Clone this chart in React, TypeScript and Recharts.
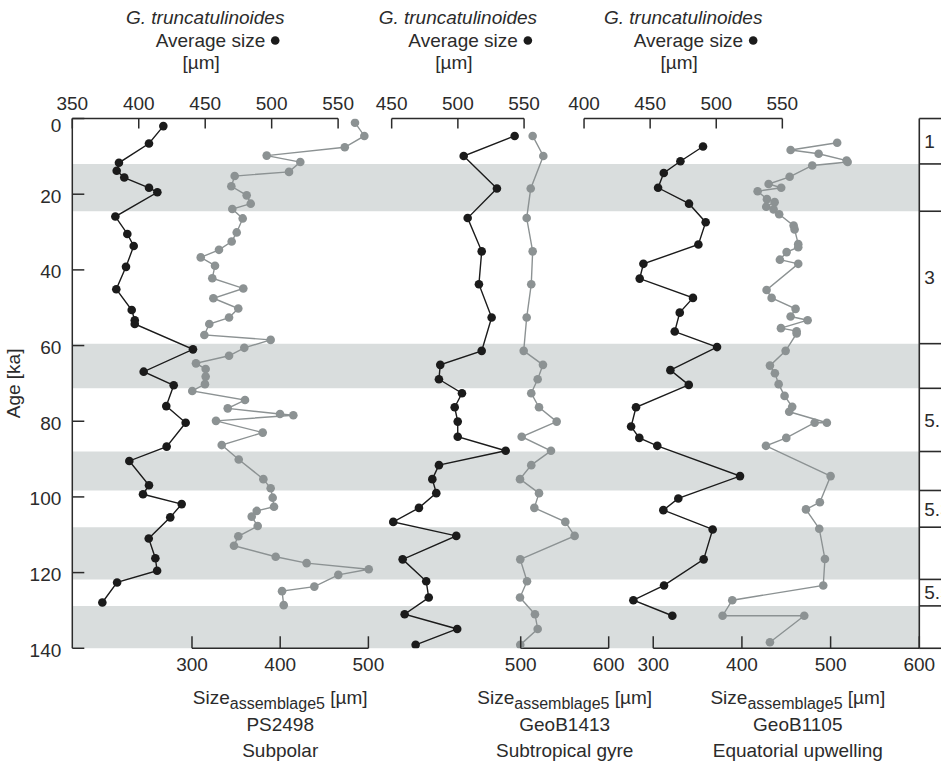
import {
  ComposedChart,
  Scatter,
  XAxis,
  YAxis,
  ReferenceArea,
  ReferenceLine,
  ReferenceDot,
} from "recharts";

const FONT = "'Liberation Sans', Arial, sans-serif";
const INK = "#2b2b2b";
const BLACK = "#1b1b1b";
const GREY = "#8c9293";
const BAND = "#d9dddd";

// PS2498, subpolar
const ps2498AvgAge = [2.0, 6.6, 11.7, 13.8, 15.6, 18.3, 19.5, 25.9, 30.5, 33.7, 39.2, 45.1, 50.6, 53.3, 54.3, 61.0, 66.9, 70.5, 76.0, 80.4, 86.7, 90.5, 96.9, 99.3, 101.9, 105.4, 111.0, 116.2, 119.5, 122.6, 127.9];
const ps2498AvgSize = [418.5, 407.7, 385.1, 383.4, 389.1, 407.7, 414, 382.4, 391.4, 396.2, 390.4, 383.1, 394.7, 397, 397, 440.8, 403.7, 426.3, 420.7, 435.3, 421, 392.9, 407.7, 403.2, 432.3, 423.7, 407.5, 412.5, 413.8, 383.7, 372.6];
const ps2498AsmAge = [1.1, 4.6, 7.6, 9.8, 11.5, 14.1, 15.2, 17.9, 20.3, 22.5, 23.9, 26.4, 30.1, 32.5, 34.7, 36.7, 38.9, 42.2, 44.9, 47.5, 50.2, 52.6, 54.3, 57.2, 58.5, 60.6, 62.7, 64.7, 66.2, 68.2, 70.2, 72.0, 74.4, 76.6, 78.1, 78.4, 79.9, 83.0, 86.3, 90.1, 95.3, 97.7, 100.2, 102.6, 103.7, 105.2, 107.7, 110.4, 112.9, 115.8, 117.5, 119.1, 120.6, 123.7, 124.9, 128.6];
const ps2498AsmSize = [484.8, 495.4, 473.2, 384.7, 422.8, 410, 348.4, 344.6, 362, 366.6, 345.7, 357.5, 350.7, 345, 330.6, 309.9, 326.1, 323, 358.2, 324.2, 352.5, 342, 319.6, 314, 389.2, 359.3, 342, 304.5, 315.5, 315.5, 314.7, 300.3, 360.1, 340.5, 399.8, 414.9, 327.2, 380.2, 333.7, 353, 380.9, 389.2, 391.5, 393, 373.4, 367.7, 374.5, 352.5, 347.6, 394.9, 430, 500.4, 465.9, 438.7, 402.1, 404];

// GeoB1413, subtropical gyre (both series share one age model)
const geoB1413Age = [4.6, 9.9, 18.5, 26.3, 35.1, 43.8, 52.6, 61.4, 65.1, 68.9, 72.6, 76.3, 80.1, 84.1, 87.8, 91.6, 95.3, 99.0, 102.9, 106.6, 110.3, 116.5, 122.3, 126.6, 131.0, 134.9, 139.1];
const geoB1413AvgSize = [542.9, 504.4, 529.5, 507.4, 518, 515.9, 525.5, 518, 486.7, 485.7, 503.1, 497.6, 499.9, 499.9, 536.1, 485.7, 480.7, 483.7, 470.6, 451.2, 498.8, 458.3, 476.1, 478, 459.8, 499.5, 468.1];
const geoB1413AsmSize = [513.6, 525.7, 511.4, 506.8, 513.6, 512, 506.8, 503.4, 525.3, 519.3, 512, 520.8, 540.9, 501.1, 534.4, 512, 499.2, 520.8, 515.5, 550.7, 561.3, 499.5, 507.2, 499.2, 516.2, 519.3, 499.5];

// GeoB1105, equatorial upwelling
const geoB1105AvgAge = [7.4, 11.3, 14.4, 18.3, 22.5, 27.4, 33.3, 38.4, 42.3, 47.4, 51.3, 56.3, 60.4, 66.5, 70.4, 76.3, 81.4, 84.4, 86.5, 94.5, 100.4, 103.5, 108.6, 116.5, 123.4, 127.3, 131.4];
const geoB1105AvgSize = [490, 472.9, 460.3, 456, 479.4, 492, 486.5, 444.9, 442.1, 482.4, 472.4, 468.6, 500.6, 465.3, 479.2, 439.3, 435.6, 441.8, 455.4, 518, 471.3, 460, 497.3, 490.5, 460.5, 437.3, 466.8];
const geoB1105AsmAge = [6.4, 8.3, 9.3, 11.1, 11.5, 12.4, 15.4, 17.3, 18.3, 19.2, 21.3, 22.1, 23.3, 24.0, 25.3, 28.3, 29.3, 33.2, 34.0, 35.3, 37.3, 38.4, 45.3, 47.4, 50.3, 52.3, 53.3, 55.4, 56.2, 56.8, 61.4, 65.3, 67.3, 70.2, 73.3, 76.2, 77.5, 80.4, 80.4, 84.4, 86.5, 94.5, 101.4, 103.3, 108.4, 116.4, 123.4, 127.3, 131.4, 131.4, 138.4];
const geoB1105AsmSize = [507.4, 454.9, 486.5, 518, 519.2, 479.3, 453.8, 430.1, 444.3, 417.7, 428.2, 436.9, 427.4, 435.7, 442, 458.3, 459.4, 463.5, 463.5, 450.4, 442.8, 463.5, 427.8, 433.5, 460.5, 454.9, 474.1, 444, 461.7, 461.7, 449.3, 431.6, 437.2, 441.4, 448.1, 456.7, 453.3, 495.8, 482, 450, 427.1, 500, 487.9, 472.2, 487.2, 493.6, 491.7, 389.1, 378.2, 470.3, 431.6];

// shaded intervals and marine isotope stage column
const shadedAges = [[12, 24.5], [59.5, 71.3], [88, 98.3], [108, 121.8], [128.8, 140]];
const stageBounds = [0, 12, 24.5, 59.5, 71.3, 88, 98.3, 108, 121.8, 128.8, 140];
const stageNames = ["1", "3", "5.1", "5.3", "5.5"];
const stageNameAges = [6, 42, 79.6, 103.2, 125.3];
const ageTicks = [0, 20, 40, 60, 80, 100, 120, 140];

const toPoints = (ages: number[], sizes: number[]) =>
  ages.map((age, i) => ({ age, v: sizes[i] }));

// each core gets its own top (average size) and bottom (assemblage size) scale
const panels = [
  {
    key: "ps2498",
    top: { id: "ps2498Top", domain: [350, 987.3], ticks: [350, 400, 450, 500, 550], titleAt: 450 },
    bottom: { id: "ps2498Bottom", domain: [164.3, 1124.6], ticks: [300, 400, 500], captionAt: 400 },
    core: "PS2498",
    region: "Subpolar",
    avg: toPoints(ps2498AvgAge, ps2498AvgSize),
    asm: toPoints(ps2498AsmAge, ps2498AsmSize),
  },
  {
    key: "geoB1413",
    top: { id: "geoB1413Top", domain: [208.8, 848.5], ticks: [450, 500, 550], titleAt: 500 },
    bottom: { id: "geoB1413Bottom", domain: [-9.6, 953], ticks: [500, 600], captionAt: 550 },
    core: "GeoB1413",
    region: "Subtropical gyre",
    avg: toPoints(geoB1413Age, geoB1413AvgSize),
    asm: toPoints(geoB1413Age, geoB1413AsmSize),
  },
  {
    key: "geoB1105",
    top: { id: "geoB1105Top", domain: [12.9, 653.6], ticks: [400, 450, 500, 550], titleAt: 475 },
    bottom: { id: "geoB1105Bottom", domain: [-355, 600], ticks: [300, 400, 500, 600], captionAt: 463 },
    core: "GeoB1105",
    region: "Equatorial upwelling",
    avg: toPoints(geoB1105AvgAge, geoB1105AvgSize),
    asm: toPoints(geoB1105AsmAge, geoB1105AsmSize),
  },
];

const textStyle = { fontFamily: FONT, fontSize: 19, fill: INK };

function TopTick({ x, y, payload }: any) {
  return (
    <g>
      <line x1={x} x2={x} y1={y} y2={y + 10} stroke={INK} strokeWidth={1.5} />
      <text x={x} y={y - 9} textAnchor="middle" {...textStyle}>
        {payload.value}
      </text>
    </g>
  );
}

function BottomTick({ x, y, payload }: any) {
  return (
    <g>
      <line x1={x} x2={x} y1={y} y2={y - 12} stroke={INK} strokeWidth={1.5} />
      <text x={x} y={y + 23} textAnchor="middle" {...textStyle}>
        {payload.value}
      </text>
    </g>
  );
}

function AgeTick({ x, y, payload }: any) {
  // the zero label is nudged down so it clears the 350 above it
  const shift = payload.value === 0 ? 7 : 1.5;
  return (
    <g>
      <line x1={x} x2={x + 12} y1={y} y2={y} stroke={INK} strokeWidth={1.5} />
      <text x={x - 11} y={y + shift} dy="0.36em" textAnchor="end" {...textStyle}>
        {payload.value}
      </text>
    </g>
  );
}

function StageTick({ x, y, payload }: any) {
  const i = stageNameAges.indexOf(payload.value);
  if (i >= 0) {
    return (
      <text x={x + 5} y={y} dy="0.36em" {...textStyle}>
        {stageNames[i]}
      </text>
    );
  }
  return <line x1={x} x2={x + 24} y1={y} y2={y} stroke={INK} strokeWidth={1.6} />;
}

function TopTitle(props: any) {
  const { x, y } = props.viewBox;
  return (
    <g>
      <text x={x} y={y - 94.5} textAnchor="middle" fontStyle="italic" {...textStyle}>
        G. truncatulinoides
      </text>
      <text x={x + 60} y={y - 72} textAnchor="end" {...textStyle}>
        Average size
      </text>
      <circle cx={x + 70} cy={y - 78} r={4.3} fill={BLACK} />
      <text x={x - 4} y={y - 50} textAnchor="middle" {...textStyle}>
        [µm]
      </text>
    </g>
  );
}

function BottomCaption(core: string, region: string) {
  return (props: any) => {
    const { x, y } = props.viewBox;
    return (
      <g>
        <text x={x} y={y + 56} textAnchor="middle" {...textStyle}>
          <tspan>Size</tspan>
          <tspan fontSize={16} dy={5}>assemblage5</tspan>
          <tspan dy={-5}> [µm]</tspan>
        </text>
        <text x={x} y={y + 83} textAnchor="middle" {...textStyle}>
          {core}
        </text>
        <text x={x} y={y + 109} textAnchor="middle" {...textStyle}>
          {region}
        </text>
      </g>
    );
  };
}

function AgeLabel(props: any) {
  const { x, y, height } = props.viewBox;
  const cy = y + height / 2;
  return (
    <text
      x={x + 20}
      y={cy}
      textAnchor="middle"
      transform={`rotate(-90, ${x + 20}, ${cy})`}
      {...textStyle}
    >
      Age [ka]
    </text>
  );
}

const dot = (fill: string) => (props: any) =>
  <circle cx={props.cx} cy={props.cy} r={4.3} fill={fill} />;

// axes sit on the plot edges; a near-zero height keeps them from stacking
const AXIS_H = 0.01;

export default function App() {
  return (
    <div
      style={{
        position: "fixed",
        left: 0,
        top: 0,
        width: 941,
        height: 767,
        overflow: "hidden",
        background: "#fff",
      }}
    >
      <ComposedChart
        width={941}
        height={767}
        margin={{ top: 118.5, right: 0, bottom: 118.7, left: 0 }}
      >
        {panels.map((p) => (
          <XAxis
            key={p.top.id}
            xAxisId={p.top.id}
            orientation="top"
            type="number"
            dataKey="v"
            domain={p.top.domain}
            allowDataOverflow
            ticks={p.top.ticks}
            interval={0}
            height={AXIS_H}
            axisLine={false}
            tickLine={false}
            tickSize={0}
            tickMargin={0}
            tick={(t: any) => <TopTick {...t} />}
          />
        ))}
        {panels.map((p) => (
          <XAxis
            key={p.bottom.id}
            xAxisId={p.bottom.id}
            orientation="bottom"
            type="number"
            dataKey="v"
            domain={p.bottom.domain}
            allowDataOverflow
            ticks={p.bottom.ticks}
            interval={0}
            height={AXIS_H}
            axisLine={false}
            tickLine={false}
            tickSize={0}
            tickMargin={0}
            tick={(t: any) => <BottomTick {...t} />}
          />
        ))}
        <YAxis
          type="number"
          dataKey="age"
          domain={[0, 140]}
          reversed
          allowDataOverflow
          ticks={ageTicks}
          interval={0}
          width={72.3}
          axisLine={{ stroke: INK, strokeWidth: 1.5 }}
          tickLine={false}
          tickSize={0}
          tickMargin={0}
          tick={(t: any) => <AgeTick {...t} />}
          label={(l: any) => <AgeLabel {...l} />}
        />
        <YAxis
          yAxisId="stage"
          orientation="right"
          type="number"
          domain={[0, 140]}
          reversed
          allowDataOverflow
          ticks={[...stageBounds, ...stageNameAges]}
          interval={0}
          width={21.7}
          axisLine={{ stroke: INK, strokeWidth: 1.6 }}
          tickLine={false}
          tickSize={0}
          tickMargin={0}
          tick={(t: any) => <StageTick {...t} />}
        />

        {shadedAges.map(([a, b]) => (
          <ReferenceArea
            key={a}
            xAxisId={panels[0].top.id}
            y1={a}
            y2={b}
            fill={BAND}
            fillOpacity={1}
            stroke="none"
            ifOverflow="visible"
          />
        ))}

        {panels.map((p) => (
          <ReferenceLine
            key={`${p.key}-topline`}
            xAxisId={p.top.id}
            segment={[
              { x: p.top.ticks[0], y: 0 },
              { x: p.top.ticks[p.top.ticks.length - 1], y: 0 },
            ]}
            stroke={INK}
            strokeWidth={1.6}
            ifOverflow="visible"
          />
        ))}
        {panels.map((p) => (
          <ReferenceLine
            key={`${p.key}-bottomline`}
            xAxisId={p.bottom.id}
            segment={[
              { x: p.bottom.ticks[0], y: 140 },
              { x: p.bottom.ticks[p.bottom.ticks.length - 1], y: 140 },
            ]}
            stroke={INK}
            strokeWidth={1.6}
            ifOverflow="visible"
          />
        ))}

        {panels.map((p) => (
          <ReferenceDot
            key={`${p.key}-title`}
            xAxisId={p.top.id}
            x={p.top.titleAt}
            y={0}
            r={0}
            ifOverflow="visible"
            label={(l: any) => <TopTitle {...l} />}
          />
        ))}
        {panels.map((p) => (
          <ReferenceDot
            key={`${p.key}-caption`}
            xAxisId={p.bottom.id}
            x={p.bottom.captionAt}
            y={140}
            r={0}
            ifOverflow="visible"
            label={BottomCaption(p.core, p.region)}
          />
        ))}

        {panels.map((p) => (
          <Scatter
            key={`${p.key}-avg`}
            xAxisId={p.top.id}
            data={p.avg}
            line={{ stroke: BLACK, strokeWidth: 1.4 }}
            shape={dot(BLACK)}
            isAnimationActive={false}
          />
        ))}
        {panels.map((p) => (
          <Scatter
            key={`${p.key}-asm`}
            xAxisId={p.bottom.id}
            data={p.asm}
            line={{ stroke: GREY, strokeWidth: 1.4 }}
            shape={dot(GREY)}
            isAnimationActive={false}
          />
        ))}
      </ComposedChart>
    </div>
  );
}
